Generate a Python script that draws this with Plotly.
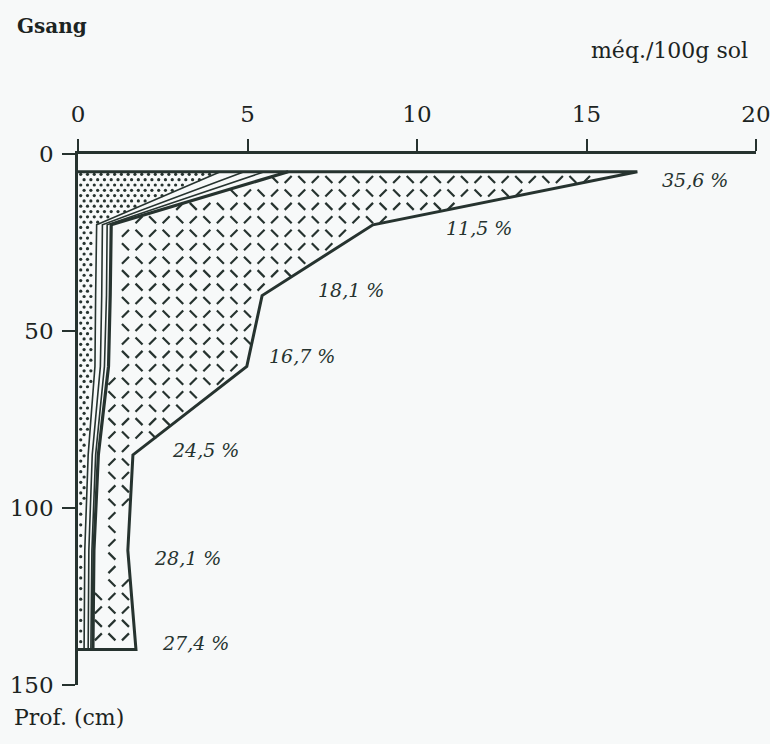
import numpy as np
import plotly.graph_objects as go

# Soil profile "Gsang": cumulative exchangeable bases and CEC (méq./100g sol)
depth = [5, 20, 40, 60, 85, 112, 140]
ca_cum = [4.2, 0.55, 0.52, 0.50, 0.30, 0.20, 0.18]
mg_cum = [4.9, 0.72, 0.70, 0.66, 0.42, 0.32, 0.30]
k_cum = [5.5, 0.86, 0.84, 0.78, 0.52, 0.41, 0.38]
s_cum = [6.2, 0.98, 0.95, 0.90, 0.60, 0.47, 0.44]
cec = [16.5, 8.7, 5.43, 4.98, 1.62, 1.47, 1.71]
saturation = ["35,6 %", "11,5 %", "18,1 %", "16,7 %", "24,5 %", "28,1 %", "27,4 %"]
x_ticks = [0, 5, 10, 15, 20]
y_ticks = [0, 50, 100, 150]

INK = "#26332f"
TXT = "#1c2422"
BG = "#f7f9f9"
SERIF = "DejaVu Serif"

fig = go.Figure()

d_top, d_bot = depth[0], depth[-1]


def inside(xv, dv, left, right, pad_x, pad_d):
    lo = np.interp(dv, depth, left) + pad_x
    hi = np.interp(dv, depth, right) - pad_x
    return (dv > d_top + pad_d) & (dv < d_bot - pad_d) & (xv > lo) & (xv < hi)


# dotted texture between the axis and the Ca curve
dx, dd = 0.2, 1.5
px, pd = [], []
for r, dv in enumerate(np.arange(d_top + dd / 2, d_bot, dd)):
    shift = dx / 2 if r % 2 else 0.0
    for xv in np.arange(0.08 + shift, 7, dx):
        px.append(xv)
        pd.append(dv)
px, pd = np.array(px), np.array(pd)
m = inside(px, pd, [0.0] * len(depth), ca_cum, 0.07, 0.6)
fig.add_trace(go.Scatter(x=px[m], y=pd[m], mode="markers",
                         marker=dict(symbol="circle", size=3.2, color=INK),
                         hoverinfo="skip", showlegend=False))

# dashed diamond texture between the sum of bases and the CEC
sx, sd = 0.40, 3.8
nw_x, nw_d, ne_x, ne_d = [], [], [], []
for ri, dv in enumerate(np.arange(d_top + 2.2, d_bot, sd)):
    for ki, xv in enumerate(np.arange(0.2, 20, sx)):
        if (ki + ri) % 2 == 0:
            nw_x.append(xv)
            nw_d.append(dv)
        else:
            ne_x.append(xv)
            ne_d.append(dv)
for xs, ds, sym in ((nw_x, nw_d, "line-nw"), (ne_x, ne_d, "line-ne")):
    xs, ds = np.array(xs), np.array(ds)
    m = inside(xs, ds, s_cum, cec, 0.14, 1.3)
    fig.add_trace(go.Scatter(x=xs[m], y=ds[m], mode="markers",
                             marker=dict(symbol=sym, size=7,
                                         line=dict(width=2.2, color=INK)),
                             hoverinfo="skip", showlegend=False))

# inner cumulative curves
for vals, w in ((ca_cum, 1.6), (mg_cum, 1.6), (k_cum, 1.6), (s_cum, 3.2)):
    fig.add_trace(go.Scatter(x=vals, y=depth, mode="lines",
                             line=dict(color=INK, width=w),
                             hoverinfo="skip", showlegend=False))

# CEC outline closed against the axis at top and bottom
fig.add_trace(go.Scatter(x=[0] + cec + [0], y=[d_top] + depth + [d_bot],
                         mode="lines", line=dict(color=INK, width=3),
                         hoverinfo="skip", showlegend=False))

# base saturation labels beside each horizon
label_dx = [0.67, 2.1, 1.6, 0.6, 1.1, 0.7, 0.7]
label_dd = [2.3, 1.0, -1.6, -3.0, -1.4, 2.0, -2.0]
for c, dv, t, ox, od in zip(cec, depth, saturation, label_dx, label_dd):
    fig.add_annotation(x=c + ox, y=dv + od, text=t, showarrow=False,
                       xanchor="left", yanchor="middle",
                       font=dict(family=SERIF, size=19, color=INK,
                                 style="italic"))

fig.add_annotation(text="Gsang", xref="paper", yref="paper", x=-0.093, y=1.241,
                   xanchor="left", yanchor="middle", showarrow=False,
                   font=dict(family=SERIF, size=20, color=TXT, weight="bold"))
fig.add_annotation(text="méq./100g sol", xref="paper", yref="paper", x=0.991,
                   y=1.194, xanchor="right", yanchor="middle", showarrow=False,
                   font=dict(family=SERIF, size=22, color=TXT))
fig.add_annotation(text="Prof. (cm)", xref="paper", yref="paper", x=-0.097,
                   y=-0.062, xanchor="left", yanchor="middle", showarrow=False,
                   font=dict(family=SERIF, size=22, color=TXT))

fig.update_xaxes(range=[0, 20], side="top", tickvals=x_ticks,
                 ticks="outside", ticklen=12, tickwidth=2.2, tickcolor=INK,
                 ticklabelstandoff=8, ticklabeloverflow="allow",
                 automargin=False,
                 showline=True, linewidth=2.6, linecolor=INK,
                 showgrid=False, zeroline=False,
                 tickfont=dict(family=SERIF, size=23, color=TXT))
fig.update_yaxes(range=[150, 0], tickvals=y_ticks,
                 ticks="outside", ticklen=13, tickwidth=2.2, tickcolor=INK,
                 ticklabelstandoff=4, ticklabeloverflow="allow",
                 automargin=False,
                 showline=True, linewidth=2.6, linecolor=INK,
                 showgrid=False, zeroline=False,
                 tickfont=dict(family=SERIF, size=23, color=TXT))

fig.update_layout(width=770, height=744,
                  margin=dict(l=78, r=14, t=154, b=59, autoexpand=False),
                  paper_bgcolor=BG, plot_bgcolor=BG, showlegend=False)

fig.write_html("out.html")
